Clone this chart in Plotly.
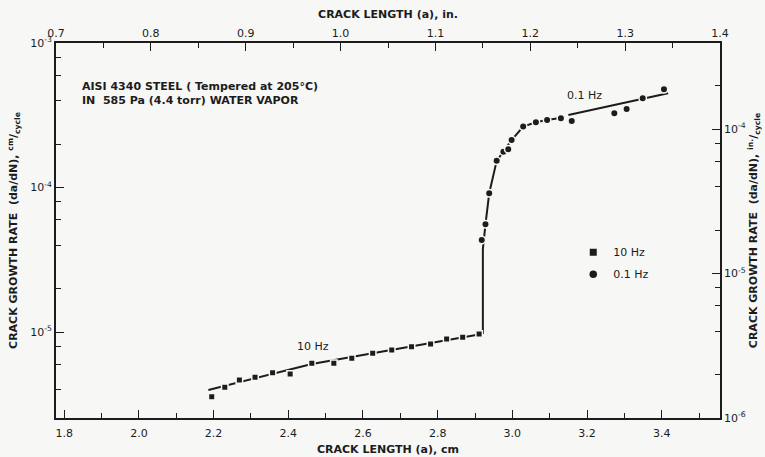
import plotly.graph_objects as go
import numpy as np

# ---- data (crack length in cm, growth rate in cm/cycle) ----
hz10_x = [2.195, 2.230, 2.269, 2.311, 2.358, 2.405, 2.463, 2.522, 2.570, 2.626,
          2.677, 2.730, 2.781, 2.824, 2.867, 2.911]
hz10_y = [3.57e-6, 4.14e-6, 4.66e-6, 4.86e-6, 5.23e-6, 5.12e-6, 6.07e-6, 6.07e-6,
          6.58e-6, 7.13e-6, 7.50e-6, 7.91e-6, 8.26e-6, 8.95e-6, 9.19e-6, 9.68e-6]

hz01_x = [2.918, 2.928, 2.938, 2.958, 2.976, 2.989, 2.998, 3.029, 3.063, 3.093,
          3.130, 3.159, 3.273, 3.306, 3.349, 3.406]
hz01_y = [4.33e-5, 5.56e-5, 9.12e-5, 1.53e-4, 1.77e-4, 1.84e-4, 2.13e-4, 2.64e-4,
          2.83e-4, 2.93e-4, 3.01e-4, 2.89e-4, 3.26e-4, 3.49e-4, 4.14e-4, 4.78e-4]

# fitted curves
fit10_x = [2.186, 2.463, 2.918]
fit10_y = [3.97e-6, 6.0e-6, 9.7e-6]
fit01_x = [2.921, 2.921, 2.928, 2.938, 2.958, 2.976, 2.998, 3.029, 3.063, 3.093, 3.132,
           None, 3.150, 3.417]
fit01_y = [9.7e-6, 3.75e-5, 5.56e-5, 9.12e-5, 1.53e-4, 1.77e-4, 2.13e-4, 2.64e-4,
           2.83e-4, 2.93e-4, 3.04e-4,
           None, 3.17e-4, 4.49e-4]

x_cm_ticks = [1.8, 2.0, 2.2, 2.4, 2.6, 2.8, 3.0, 3.2, 3.4]
x_in_ticks = [0.7, 0.8, 0.9, 1.0, 1.1, 1.2, 1.3, 1.4]
y_cm_ticks = [1e-5, 1e-4, 1e-3]
y_cm_text = ["10<sup>-5</sup>", "10<sup>-4</sup>", "10<sup>-3</sup>"]
y_in_ticks = [1e-6, 1e-5, 1e-4]
y_in_text = ["10<sup>-6</sup>", "10<sup>-5</sup>", "10<sup>-4</sup>"]

BG = "#f7f7f5"
INK = "#1c1c1c"
FONT = "DejaVu Sans"
CM_PER_IN = 2.54

def minors(decades):
    out = []
    for d in decades:
        for m in (2, 4, 6, 8):
            out.append(m * 10.0 ** d)
    return out

def B(s):
    return "<b>" + s + "</b>"

fig = go.Figure()

fig.add_trace(go.Scatter(x=fit10_x, y=fit10_y, mode="lines",
                         line=dict(color=INK, width=2), showlegend=False, hoverinfo="skip"))
fig.add_trace(go.Scatter(x=fit01_x, y=fit01_y, mode="lines",
                         line=dict(color=INK, width=2), showlegend=False, hoverinfo="skip",
                         connectgaps=False))
fig.add_trace(go.Scatter(x=hz10_x, y=hz10_y, mode="markers", showlegend=False,
                         marker=dict(symbol="square", size=6.5, color=INK,
                                     line=dict(color=BG, width=1.5))))
fig.add_trace(go.Scatter(x=hz01_x, y=hz01_y, mode="markers", showlegend=False,
                         marker=dict(symbol="circle", size=7.5, color=INK,
                                     line=dict(color=BG, width=1.5))))
# legend entries
fig.add_trace(go.Scatter(x=[None], y=[None], mode="markers", name="10 Hz", legendgroup="a",
                         marker=dict(symbol="square", size=7, color=INK)))
fig.add_trace(go.Scatter(x=[None], y=[None], mode="markers", name="0.1 Hz", legendgroup="b",
                         marker=dict(symbol="circle", size=7.5, color=INK)))
# same data in inches on the secondary axes (invisible, keeps axes active)
fig.add_trace(go.Scatter(x=[v / CM_PER_IN for v in hz01_x], y=[v / CM_PER_IN for v in hz01_y],
                         xaxis="x2", yaxis="y2", mode="markers", marker=dict(opacity=0),
                         showlegend=False, hoverinfo="skip"))

axis_common = dict(showline=True, linecolor=INK, linewidth=1.6, ticks="inside",
                   tickcolor=INK, tickwidth=1.4, showgrid=False, zeroline=False,
                   automargin=False,
                   tickfont=dict(family=FONT, size=11, color=INK))
title_font = dict(family=FONT, size=11, color=INK)

fig.update_layout(
    width=765, height=457,
    margin=dict(l=56, r=45, t=43, b=39),
    paper_bgcolor=BG, plot_bgcolor=BG,
    font=dict(family=FONT, color=INK, size=11),
    xaxis=dict(axis_common, range=[0.7 * CM_PER_IN, 1.4 * CM_PER_IN],
               tickvals=x_cm_ticks, tickformat=".1f", ticklen=8, ticklabelstandoff=4,
               minor=dict(dtick=0.1, tick0=1.8, ticks="inside", ticklen=5,
                          tickcolor=INK, tickwidth=1.3),
               title=dict(text=B("CRACK LENGTH (a), cm"), standoff=6, font=title_font)),
    xaxis2=dict(axis_common, overlaying="x", side="top", anchor="y",
                range=[0.7, 1.4], tickvals=x_in_ticks, tickformat=".1f", ticklen=8,
                minor=dict(dtick=0.05, tick0=0.7, ticks="inside", ticklen=5,
                           tickcolor=INK, tickwidth=1.3),
                title=dict(text=B("CRACK LENGTH (a), in."), standoff=6, font=title_font)),
    yaxis=dict(axis_common, type="log",
               range=[np.log10(1e-6 * CM_PER_IN), -3],
               tickvals=y_cm_ticks, ticktext=y_cm_text, ticklen=8,
               minor=dict(tickmode="array", tickvals=minors([-6, -5, -4]),
                          ticks="inside", ticklen=5, tickcolor=INK, tickwidth=1.3),
               title=dict(text=B("CRACK GROWTH RATE  (da/dN), <sup>cm</sup>/<sub>cycle</sub>"),
                          standoff=10, font=title_font)),
    yaxis2=dict(axis_common, type="log", overlaying="y", side="right", anchor="x",
                range=[-6, np.log10(1e-3 / CM_PER_IN)],
                tickvals=y_in_ticks, ticktext=y_in_text, ticklen=8,
                minor=dict(tickmode="array", tickvals=minors([-6, -5, -4]),
                           ticks="inside", ticklen=5, tickcolor=INK, tickwidth=1.3),
                title=dict(text=B("CRACK GROWTH RATE  (da/dN), <sup>in.</sup>/<sub>cycle</sub>"),
                           standoff=4, font=title_font)),
    legend=dict(x=0.779, y=0.481, xanchor="left", yanchor="top",
                bgcolor="rgba(0,0,0,0)", font=dict(family=FONT, size=11, color=INK),
                traceorder="grouped", tracegroupgap=3, itemwidth=30),
    annotations=[
        dict(text=B("AISI 4340 STEEL ( Tempered at 205°C)<br>IN  585 Pa (4.4 torr) WATER VAPOR"),
             xref="paper", yref="paper", x=(80 - 56) / 664, y=(418 - 78) / 375,
             xanchor="left", yanchor="top", align="left", showarrow=False,
             font=title_font),
        dict(text="10 Hz", x=2.465, y=-5.10, xref="x", yref="y", showarrow=False,
             font=title_font),
        dict(text="0.1 Hz", x=3.194, y=-3.36, xref="x", yref="y", showarrow=False,
             font=title_font),
    ],
)

fig.write_html("out.html")
